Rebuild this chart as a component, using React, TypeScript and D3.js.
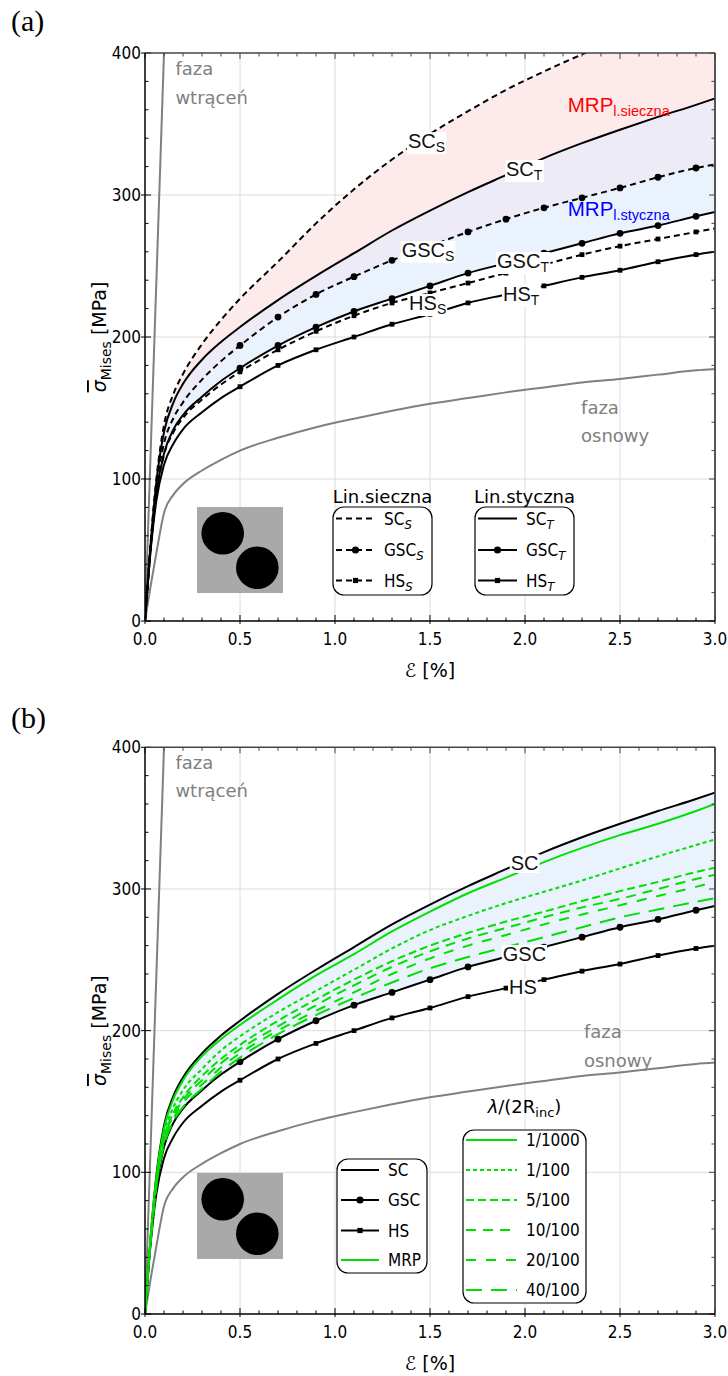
import React, { useLayoutEffect, useRef, useState } from 'react';
import * as d3 from 'd3';

// ---------- data ----------
const strain = [0, 0.03, 0.06, 0.1, 0.15, 0.2, 0.3, 0.4, 0.5, 0.7, 0.9, 1.1, 1.3, 1.5, 1.7, 1.9, 2.1, 2.3, 2.5, 2.7, 2.9, 3.0];
const scSecant = [0, 56, 100, 138, 160, 174, 195, 212, 227, 253, 280, 304, 325, 343, 359, 374, 387, 399, 410, 420, 430, 435];
const scTangent = [0, 55, 98, 133, 154, 167, 184, 196.5, 207, 226, 243, 259, 275, 289, 302, 314, 326, 336.5, 346, 355, 363.5, 368];
const gscSecant = [0, 54, 95, 125, 143, 154, 170, 183, 194, 214, 230, 242.5, 254, 264, 274, 283, 291, 298, 305, 312.5, 319, 321.5];
const gscTangent = [0, 52, 90, 118, 135, 145, 158, 169, 178, 194, 207, 218, 227, 236, 245, 252, 259, 266, 273, 278.5, 285, 288];
const hsSecant = [0, 51, 89, 117, 133, 143, 156, 166.5, 175.5, 191, 204, 215, 224, 231, 238, 245, 251, 258, 264, 269, 274, 276.5];
const hsTangent = [0, 50, 85, 110, 125, 135, 147, 157, 165, 180, 191, 200, 209, 216, 224, 230, 236, 242, 247, 253, 258, 260];
const matrixPhase = [0, 25, 48, 76, 89, 96.5, 106, 113.5, 120, 129, 136.5, 142.5, 148, 153, 157, 161, 164.5, 168, 170.5, 173.5, 176.5, 177.5];
const inclusionStrain = [0, 0.1];
const inclusionStress = [0, 400];

const mrp1000 = [0, 55, 97, 131, 152, 165, 182, 194, 204, 222, 239, 254, 270, 284, 297, 308, 319, 329, 338, 346, 355, 360];
const mrp100 = [0, 54, 95, 127, 146, 158, 173, 186, 196, 213, 228, 243, 258, 271, 281, 290, 298, 306, 314.5, 323, 331, 335];
const mrp5 = [0, 53, 93, 124, 142, 153, 168, 180, 190, 207, 222, 236, 249, 260, 269, 277, 284, 291.5, 298.5, 305, 312, 315];
const mrp10 = [0, 53, 92, 123, 140, 151, 165, 177, 187, 203, 218, 232, 245, 256, 265, 272.5, 280, 287, 293, 300, 307, 310];
const mrp20 = [0, 52, 91, 121, 138, 149, 162, 174, 184, 200, 214, 227, 240, 251, 260, 267.5, 275, 282, 288.5, 295, 301.5, 305];
const mrp40 = [0, 52, 90, 119, 136, 146, 159, 171, 181, 197.5, 211, 223, 234, 244, 252, 259, 266, 273, 280, 285.5, 291, 293.5];

const markerStrains = [0.5, 0.7, 0.9, 1.1, 1.3, 1.5, 1.7, 1.9, 2.1, 2.3, 2.5, 2.7, 2.9];
const xTicks = [0, 0.5, 1, 1.5, 2, 2.5, 3];
const yTicks = [0, 100, 200, 300, 400];
const lambdaLabels = ['1/1000', '1/100', '5/100', '10/100', '20/100', '40/100'];
const lambdaDash = ['', '4,3', '8,4', '10,7', '10,10', '16,9'];
const mrpSeries = [mrp1000, mrp100, mrp5, mrp10, mrp20, mrp40];

// ---------- style ----------
const GREEN = '#00e000';
const GRAY = '#808080';
const TICKFONT = "'DejaVu Sans Condensed', 'DejaVu Sans', sans-serif";
const LABFONT = "'Liberation Sans', Arial, sans-serif";
const DVS = "'DejaVu Sans', sans-serif";

const X0 = 145, X1 = 715;
const xs = d3.scaleLinear().domain([0, 3]).range([X0, X1]);

type Pt = [number, number];
const zipPts = (a: number[], b: number[]): Pt[] => a.map((v, i) => [v, b[i]] as Pt);

function BoxedLabel({ x, y, main, sub, size = 20, subSize = 14 }: any) {
  const ref = useRef<SVGTextElement>(null);
  const [bb, setBb] = useState<any>(null);
  useLayoutEffect(() => {
    if (ref.current) {
      const b = ref.current.getBBox();
      setBb({ x: b.x, y: b.y, w: b.width, h: b.height });
    }
  }, []);
  return (
    <g>
      {bb && <rect x={bb.x - 1} y={bb.y + 2} width={bb.w + 2} height={bb.h - 3} fill="white" />}
      <text ref={ref} x={x} y={y} fontFamily={LABFONT} fontSize={size} fill="#111">
        {main}
        {sub && <tspan fontSize={subSize} dy={4}>{sub}</tspan>}
      </text>
    </g>
  );
}

function Frame({ ys }: any) {
  const top = ys(400), bot = ys(0);
  return (
    <g>
      {xTicks.slice(1, -1).map((t) => (
        <line key={'gx' + t} x1={xs(t)} x2={xs(t)} y1={top} y2={bot} stroke="#dcdcdc" strokeWidth={1} />
      ))}
      {yTicks.slice(1, -1).map((t) => (
        <line key={'gy' + t} x1={X0} x2={X1} y1={ys(t)} y2={ys(t)} stroke="#dcdcdc" strokeWidth={1} />
      ))}
    </g>
  );
}

function Axes({ ys }: any) {
  const yMinor: number[] = ys.ticks(20);
  const xMinor: number[] = xs.ticks(30);
  const top = ys(400), bot = ys(0);
  const isMajorX = (t: number) => Math.abs(t * 2 - Math.round(t * 2)) < 1e-6;
  const isMajorY = (t: number) => t % 100 === 0;
  return (
    <g>
      {xMinor.map((t) => {
        const maj = isMajorX(t);
        return (
          <g key={'xt' + t}>
            <line x1={xs(t)} x2={xs(t)} y1={bot + (maj ? 3 : 0)} y2={bot - (maj ? 6 : 3.5)} stroke="#000" strokeWidth={1} />
            <line x1={xs(t)} x2={xs(t)} y1={top} y2={top + (maj ? 6 : 3.5)} stroke="#444" strokeWidth={1} />
          </g>
        );
      })}
      {yMinor.map((t) => {
        const maj = isMajorY(t);
        return (
          <g key={'yt' + t}>
            <line x1={X0 - (maj ? 4 : 0)} x2={X0 + (maj ? 6 : 3.5)} y1={ys(t)} y2={ys(t)} stroke="#000" strokeWidth={1} />
            <line x1={X1} x2={X1 - (maj ? 6 : 3.5)} y1={ys(t)} y2={ys(t)} stroke="#444" strokeWidth={1} />
          </g>
        );
      })}
      <line x1={X0} x2={X1} y1={top} y2={top} stroke="#444" strokeWidth={1.5} />
      <line x1={X1} x2={X1} y1={top} y2={bot} stroke="#444" strokeWidth={1.8} />
      <line x1={X0} x2={X1} y1={bot} y2={bot} stroke="#000" strokeWidth={1.5} />
      <line x1={X0} x2={X0} y1={top} y2={bot} stroke="#000" strokeWidth={1.5} />
      {xTicks.map((t) => (
        <text key={'xl' + t} x={xs(t)} y={bot + 24} textAnchor="middle" fontFamily={TICKFONT} fontSize={17} fill="#000">
          {t.toFixed(1)}
        </text>
      ))}
      {yTicks.map((t) => (
        <text key={'yl' + t} x={X0 - 4} y={ys(t) + 6} textAnchor="end" fontFamily={TICKFONT} fontSize={17} fill="#000">
          {t}
        </text>
      ))}
      <text transform={`translate(106, ${(top + bot) / 2}) rotate(-90)`} textAnchor="middle" fontFamily={DVS} fontSize={19} fill="#000">
        <tspan fontStyle="italic" textDecoration="overline">σ</tspan>
        <tspan fontSize={14} dy={5}>Mises</tspan>
        <tspan dy={-5}> [MPa]</tspan>
      </text>
      <text x={430} y={bot + 56} textAnchor="middle" fontFamily={DVS} fontSize={19} fill="#000">
        ℰ [%]
      </text>
    </g>
  );
}

function Inset({ y }: { y: number }) {
  return (
    <g>
      <rect x={197} y={y} width={86} height={86} fill="#a9a9a9" />
      <circle cx={222.7} cy={y + 26.3} r={21.3} fill="#000" />
      <circle cx={257.3} cy={y + 60.7} r={21.3} fill="#000" />
    </g>
  );
}

function markersFor(series: number[]) {
  return markerStrains.map((s) => [s, series[strain.indexOf(s)]] as Pt);
}

function Curve({ ys, series, dash, color = '#000', width = 2, marker }: any) {
  const line = d3.line<Pt>().x((d) => xs(d[0])).y((d) => ys(d[1])).curve(d3.curveMonotoneX);
  const pts = zipPts(strain, series);
  return (
    <g>
      <path d={line(pts) || ''} fill="none" stroke={color} strokeWidth={width} strokeDasharray={dash || undefined} />
      {marker === 'circle' && markersFor(series).map((p, i) => (
        <circle key={i} cx={xs(p[0])} cy={ys(p[1])} r={3.4} fill={color} />
      ))}
      {marker === 'square' && markersFor(series).map((p, i) => (
        <rect key={i} x={xs(p[0]) - 2.4} y={ys(p[1]) - 2.4} width={4.8} height={4.8} fill={color} />
      ))}
    </g>
  );
}

function Band({ ys, upper, lower, color }: any) {
  const area = d3.area<number>()
    .x((_, i) => xs(strain[i]))
    .y0((_, i) => ys(lower[i]))
    .y1((_, i) => ys(upper[i]))
    .curve(d3.curveMonotoneX);
  return <path d={area(upper) || ''} fill={color} stroke="none" />;
}

function Phases({ ys }: any) {
  const line = d3.line<Pt>().x((d) => xs(d[0])).y((d) => ys(d[1])).curve(d3.curveMonotoneX);
  const incl = d3.line<Pt>().x((d) => xs(d[0])).y((d) => ys(d[1]));
  return (
    <g>
      <path d={line(zipPts(strain, matrixPhase)) || ''} fill="none" stroke={GRAY} strokeWidth={2} />
      <path d={incl(zipPts(inclusionStrain, inclusionStress)) || ''} fill="none" stroke={GRAY} strokeWidth={2} />
    </g>
  );
}

function GrayText({ x, y, lines }: any) {
  return (
    <text x={x} y={y} fontFamily={DVS} fontSize={18} fill={GRAY}>
      <tspan x={x}>{lines[0]}</tspan>
      <tspan x={x} dy={28.5}>{lines[1]}</tspan>
    </text>
  );
}

function LegendRow({ x1, x2, y, dash, color = '#000', marker, label, sub }: any) {
  const mid = (x1 + x2) / 2;
  return (
    <g>
      <line x1={x1} x2={x2} y1={y} y2={y} stroke={color} strokeWidth={2} strokeDasharray={dash || undefined} />
      {marker === 'circle' && <circle cx={mid} cy={y} r={3.6} fill={color} />}
      {marker === 'square' && <rect x={mid - 2.6} y={y - 2.6} width={5.2} height={5.2} fill={color} />}
      <text x={x2 + 9} y={y + 6} fontFamily={TICKFONT} fontSize={17} fill="#000">
        {label}
        {sub && <tspan fontStyle="italic" fontSize={13} dy={4}>{sub}</tspan>}
      </text>
    </g>
  );
}

function PanelA() {
  const ys = d3.scaleLinear().domain([0, 400]).range([621, 53]);
  const clip = 'clipA';
  return (
    <g>
      <defs>
        <clipPath id={clip}>
          <rect x={X0} y={ys(400)} width={X1 - X0} height={ys(0) - ys(400)} />
        </clipPath>
      </defs>
      <Frame ys={ys} />
      <g clipPath={`url(#${clip})`}>
        <Band ys={ys} upper={scSecant} lower={scTangent} color="#fdeaea" />
        <Band ys={ys} upper={scTangent} lower={gscSecant} color="#edebf5" />
        <Band ys={ys} upper={gscSecant} lower={gscTangent} color="#eaf3fd" />
        <Phases ys={ys} />
        <Curve ys={ys} series={hsTangent} marker="square" />
        <Curve ys={ys} series={hsSecant} marker="square" dash="6,4" />
        <Curve ys={ys} series={gscTangent} marker="circle" />
        <Curve ys={ys} series={gscSecant} marker="circle" dash="6,4" />
        <Curve ys={ys} series={scTangent} />
        <Curve ys={ys} series={scSecant} dash="6,4" />
      </g>
      <GrayText x={xs(0.16)} y={ys(384.5)} lines={['faza', 'wtrąceń']} />
      <GrayText x={xs(2.295)} y={ys(145.8)} lines={['faza', 'osnowy']} />
      <BoxedLabel x={xs(1.384)} y={ys(333)} main="SC" sub="S" />
      <BoxedLabel x={xs(1.9)} y={ys(313.4)} main="SC" sub="T" />
      <BoxedLabel x={xs(1.351)} y={ys(256.3)} main="GSC" sub="S" />
      <BoxedLabel x={xs(1.39)} y={ys(219)} main="HS" sub="S" />
      <BoxedLabel x={xs(1.853)} y={ys(248.6)} main="GSC" sub="T" />
      <BoxedLabel x={xs(1.884)} y={ys(225.6)} main="HS" sub="T" />
      <text x={xs(2.225)} y={ys(358.7)} fontFamily={LABFONT} fontSize={20.5} fill="#ff0000">
        MRP<tspan fontSize={14.5} dy={4}>l.sieczna</tspan>
      </text>
      <text x={xs(2.225)} y={ys(285.4)} fontFamily={LABFONT} fontSize={20.5} fill="#0000ff">
        MRP<tspan fontSize={14.5} dy={4}>l.styczna</tspan>
      </text>
      <Inset y={507} />
      <text x={382.5} y={503} textAnchor="middle" fontFamily={DVS} fontSize={18} fill="#000">Lin.sieczna</text>
      <rect x={333} y={507} width={99} height={88} rx={11} fill="white" stroke="#000" strokeWidth={1.2} />
      <LegendRow x1={336} x2={375} y={518.5} dash="6,4" label="SC" sub="S" />
      <LegendRow x1={336} x2={375} y={550} dash="6,4" marker="circle" label="GSC" sub="S" />
      <LegendRow x1={336} x2={375} y={580.5} dash="6,4" marker="square" label="HS" sub="S" />
      <text x={524.5} y={503} textAnchor="middle" fontFamily={DVS} fontSize={18} fill="#000">Lin.styczna</text>
      <rect x={475} y={507} width={99} height={88} rx={11} fill="white" stroke="#000" strokeWidth={1.2} />
      <LegendRow x1={478} x2={517} y={518.5} label="SC" sub="T" />
      <LegendRow x1={478} x2={517} y={550} marker="circle" label="GSC" sub="T" />
      <LegendRow x1={478} x2={517} y={580.5} marker="square" label="HS" sub="T" />
      <Axes ys={ys} />
      <text x={11} y={31} fontFamily="'Liberation Serif', serif" fontSize={30} fill="#000">(a)</text>
    </g>
  );
}

function PanelB() {
  const ys = d3.scaleLinear().domain([0, 400]).range([1314, 747.3]);
  const clip = 'clipB';
  return (
    <g>
      <defs>
        <clipPath id={clip}>
          <rect x={X0} y={ys(400)} width={X1 - X0} height={ys(0) - ys(400)} />
        </clipPath>
      </defs>
      <Frame ys={ys} />
      <g clipPath={`url(#${clip})`}>
        <Band ys={ys} upper={scTangent} lower={gscTangent} color="#eaf3fd" />
        <Phases ys={ys} />
        <Curve ys={ys} series={hsTangent} marker="square" />
        <Curve ys={ys} series={gscTangent} marker="circle" />
        <Curve ys={ys} series={scTangent} />
        {mrpSeries.map((s, i) => (
          <Curve key={i} ys={ys} series={s} color={GREEN} dash={lambdaDash[i]} />
        ))}
      </g>
      <GrayText x={xs(0.16)} y={ys(384.7)} lines={['faza', 'wtrąceń']} />
      <GrayText x={xs(2.31)} y={ys(194.8)} lines={['faza', 'osnowy']} />
      <BoxedLabel x={xs(1.925)} y={ys(313.4)} main="SC" />
      <BoxedLabel x={xs(1.883)} y={ys(249.2)} main="GSC" />
      <BoxedLabel x={xs(1.916)} y={ys(225.7)} main="HS" />
      <Inset y={1173} />
      <rect x={337} y={1159} width={90} height={114} rx={11} fill="white" stroke="#000" strokeWidth={1.2} />
      <LegendRow x1={341} x2={379} y={1170} label="SC" />
      <LegendRow x1={341} x2={379} y={1200} marker="circle" label="GSC" />
      <LegendRow x1={341} x2={379} y={1230.5} marker="square" label="HS" />
      <LegendRow x1={341} x2={379} y={1260} color={GREEN} label="MRP" />
      <text x={524.5} y={1113} textAnchor="middle" fontFamily={DVS} fontSize={18} fill="#000">
        <tspan fontStyle="italic">λ</tspan>/(2R<tspan fontSize={13} dy={4}>inc</tspan><tspan dy={-4}>)</tspan>
      </text>
      <rect x={463} y={1130} width={123} height={173} rx={11} fill="white" stroke="#000" strokeWidth={1.2} />
      {lambdaLabels.map((l, i) => (
        <LegendRow key={l} x1={466} x2={517} y={1140 + i * 30} color={GREEN} dash={lambdaDash[i]} label={l} />
      ))}
      <Axes ys={ys} />
      <text x={11} y={728} fontFamily="'Liberation Serif', serif" fontSize={30} fill="#000">(b)</text>
    </g>
  );
}

export default function App() {
  return (
    <svg width={728} height={1376} style={{ position: 'absolute', left: 0, top: 0, background: '#fff' }}>
      <rect x={0} y={0} width={728} height={1376} fill="#fff" />
      <PanelA />
      <PanelB />
    </svg>
  );
}
